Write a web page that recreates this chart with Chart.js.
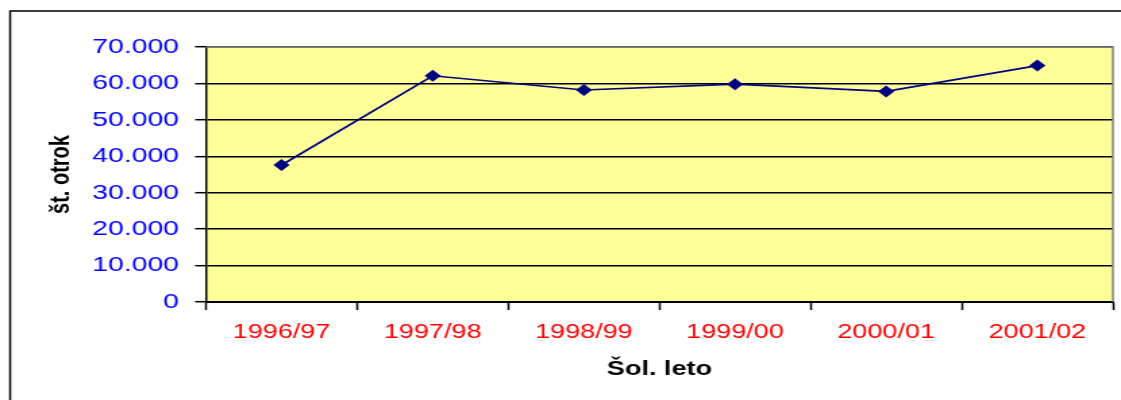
<!DOCTYPE html>
<html>
<head>
<meta charset="utf-8">
<script src="https://cdn.jsdelivr.net/npm/chart.js@4"></script>
<style>
  html, body { margin: 0; padding: 0; background: #fff; }
</style>
</head>
<body>
<!-- drawn narrower and widened with CSS, like the original Excel export -->
<canvas id="chart" width="830" height="400" style="width:1121px;height:400px;display:block"></canvas>
<script>
const schoolYears = ['1996/97', '1997/98', '1998/99', '1999/00', '2000/01', '2001/02'];
const childCounts = [37600, 62100, 58200, 59800, 57800, 64900];
const yTicks = [0, 10000, 20000, 30000, 40000, 50000, 60000, 70000];

function formatThousands(v) {
    return String(v).replace(/\B(?=(\d{3})+(?!\d))/g, '.');
}

const plotDecor = {
    id: 'plotDecor',
    beforeDraw(chart) {
        const { ctx, chartArea: a } = chart;
        ctx.save();
        ctx.fillStyle = '#ffff99';
        ctx.fillRect(a.left, a.top, a.right - a.left, a.bottom - a.top);
        ctx.restore();
    },
    beforeDatasetsDraw(chart) {
        const { ctx, chartArea: a } = chart;
        ctx.save();
        ctx.strokeStyle = '#808080';
        ctx.lineWidth = 1.5;
        ctx.beginPath();
        ctx.moveTo(a.left, a.top);
        ctx.lineTo(a.right, a.top);
        ctx.lineTo(a.right, a.bottom);
        ctx.stroke();
        ctx.restore();
    },
    afterDraw(chart) {
        // outer frame of the chart object
        const { ctx, width, height } = chart;
        ctx.save();
        ctx.strokeStyle = '#000';
        ctx.lineWidth = 1.5;
        ctx.beginPath();
        ctx.moveTo(7.5, height + 2);
        ctx.lineTo(7.5, 11);
        ctx.lineTo(width + 2, 11);
        ctx.stroke();
        ctx.restore();
    }
};

new Chart(document.getElementById('chart'), {
    type: 'line',
    data: {
        labels: schoolYears,
        datasets: [{
            data: childCounts,
            borderColor: '#000080',
            backgroundColor: '#000080',
            borderWidth: 1.7,
            tension: 0,
            pointStyle: 'rectRot',
            pointRadius: 6,
            pointBorderWidth: 0,
            pointBackgroundColor: '#000080'
        }]
    },
    options: {
        responsive: false,
        animation: false,
        layout: { padding: { left: 33, top: 47, right: 4.4, bottom: 19 } },
        plugins: {
            legend: { display: false },
            tooltip: { enabled: false }
        },
        scales: {
            x: {
                offset: true,
                afterFit(scale) { scale.height = 79; },
                grid: {
                    offset: true,
                    drawOnChartArea: false,
                    drawTicks: true,
                    tickLength: 8,
                    tickColor: '#000',
                    tickWidth: 1.5
                },
                border: { display: true, color: '#000', width: 2 },
                ticks: {
                    color: '#ff0000',
                    padding: 10,
                    maxRotation: 0,
                    font: { family: '"Liberation Sans", Arial, sans-serif', size: 20 }
                },
                title: {
                    display: true,
                    text: 'Šol. leto',
                    color: '#000',
                    padding: 0,
                    font: { family: '"Liberation Sans", Arial, sans-serif', size: 20, weight: 'bold' }
                }
            },
            y: {
                min: 0,
                max: 70000,
                afterFit(scale) { scale.width = 119.5; },
                afterBuildTicks(scale) { scale.ticks = yTicks.map(v => ({ value: v })); },
                grid: {
                    color: '#000',
                    lineWidth: 1.4,
                    drawTicks: true,
                    tickLength: 8,
                    tickColor: '#000',
                    tickWidth: 1.5
                },
                border: { display: true, color: '#000', width: 1.5 },
                ticks: {
                    color: '#0000ff',
                    padding: 12,
                    callback: (v) => formatThousands(v),
                    font: { family: '"Liberation Sans", Arial, sans-serif', size: 21 }
                },
                title: {
                    display: true,
                    text: 'št. otrok',
                    color: '#000',
                    padding: 0,
                    font: { family: '"Liberation Sans", Arial, sans-serif', size: 20, weight: 'bold' }
                }
            }
        }
    },
    plugins: [plotDecor]
});
</script>
</body>
</html>
